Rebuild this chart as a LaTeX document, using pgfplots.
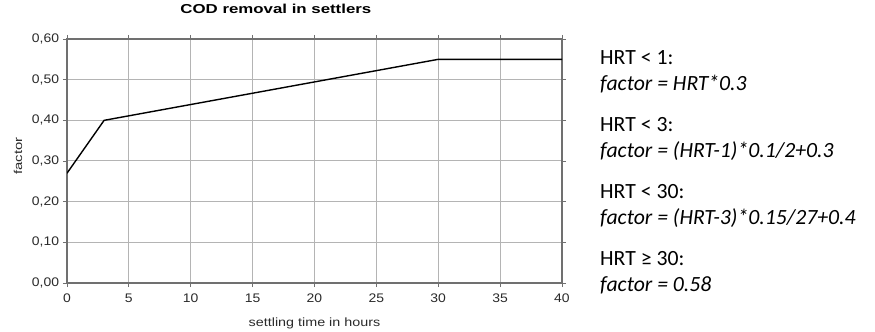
\documentclass[border=0pt]{standalone}
\usepackage{fontspec}
\setmainfont{Liberation Sans}
\newfontfamily\carlito{Carlito}
\usepackage{pgfplots}
\pgfplotsset{compat=1.18}
\definecolor{gridgray}{HTML}{B4B4B4}
\definecolor{axisgray}{HTML}{707070}
\definecolor{txt}{HTML}{2A2A2A}
\begin{document}
\begin{tikzpicture}
\begin{axis}[
  at={(67bp,49bp)}, anchor=south west,
  scale only axis, width=495bp, height=244bp,
  xmin=0, xmax=40, ymin=0, ymax=0.6,
  xtick={0,5,...,40}, ytick={0,0.1,0.2,0.3,0.4,0.5,0.6},
  grid=major, major grid style={gridgray, line width=1bp},
  axis line style={axisgray, line width=1.3bp},
  tick style={axisgray, line width=0.9bp},
  tick align=outside, major tick length=4bp,
  /pgf/number format/assume math mode=true,
  yticklabel style={/pgf/number format/.cd, fixed, fixed zerofill, precision=2, use comma},
  xticklabel style={yshift=-3bp},
  tick label style={font=\fontsize{12.5}{14}\selectfont, xscale=1.12, text=txt},
  title={COD removal in settlers},
  title style={at={(axis description cs:0.422,1)}, anchor=center, yshift=24bp,
    font=\bfseries\fontsize{13}{15}\selectfont, xscale=1.3, text=black},
  xlabel={settling time in hours},
  xlabel style={at={(axis description cs:0.5,0)}, anchor=center, yshift=-40bp,
    font=\fontsize{12}{14}\selectfont, xscale=1.2, text=txt},
  ylabel={factor},
  every axis y label/.style={at={(axis description cs:-0.099,0.52)}, anchor=center,
    rotate=90, font=\fontsize{11.5}{13}\selectfont, xscale=1.3, text=txt},
]
\addplot[black, line width=1.4bp] coordinates {(0,0.27) (3,0.40) (30,0.55) (40,0.55)};
\end{axis}
\begin{scope}[every node/.style={anchor=base west, inner sep=0pt, font=\carlito\fontsize{21.8}{25}\selectfont, text=black}]
\node at (600bp,267bp) {HRT < 1:};
\node at (600bp,241bp) {\itshape factor = HRT*0.3};
\node at (600bp,200bp) {HRT < 3:};
\node at (600bp,174bp) {\itshape factor = (HRT-1)*0.1/2+0.3};
\node at (600bp,133bp) {HRT < 30:};
\node at (600bp,107bp) {\itshape factor = (HRT-3)*0.15/27+0.4};
\node at (600bp,66bp) {HRT ≥ 30:};
\node at (600bp,40bp) {\itshape factor = 0.58};
\end{scope}
\pgfresetboundingbox
\path[use as bounding box] (0,0) rectangle (875bp,332bp);
\end{tikzpicture}
\end{document}
